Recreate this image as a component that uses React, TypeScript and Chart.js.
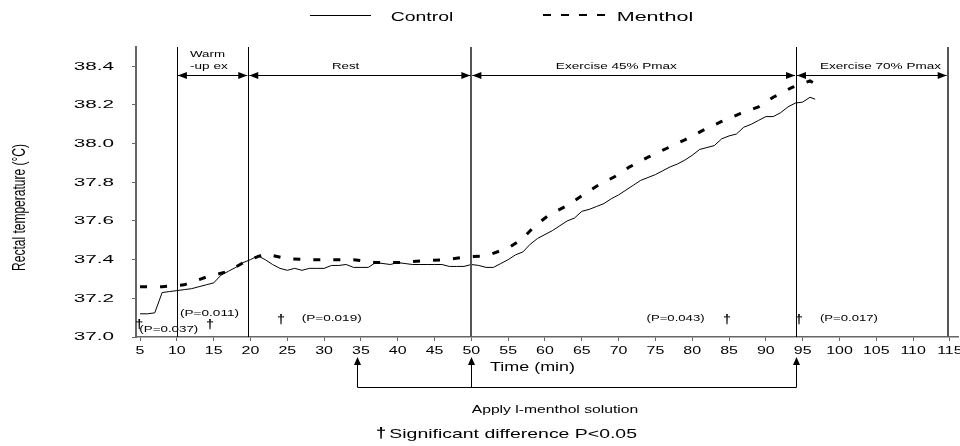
import { useEffect, useRef } from 'react';
import { Chart, registerables } from 'chart.js';

Chart.register(...registerables);

const FONT = "'Liberation Sans', Arial, sans-serif";

// ---- data ----
const controlTime = [5, 6, 7, 8, 9, 10, 11, 12, 13, 14, 15, 16, 17, 18, 19, 20, 21, 22, 23, 24, 25, 26, 27, 28, 29, 30, 31, 32, 33, 34, 35, 36, 37, 38, 39, 40, 41, 42, 43, 44, 45, 46, 47, 48, 49, 50, 51, 52, 53, 54, 55, 56, 57, 58, 59, 60, 61, 62, 63, 64, 65, 66, 67, 68, 69, 70, 71, 72, 73, 74, 75, 76, 77, 78, 79, 80, 81, 82, 83, 84, 85, 86, 87, 88, 89, 90, 91, 92, 93, 94, 95, 96, 96.7];
const controlTemp = [37.12, 37.12, 37.125, 37.23, 37.235, 37.24, 37.245, 37.25, 37.26, 37.27, 37.28, 37.32, 37.34, 37.36, 37.385, 37.4, 37.42, 37.4, 37.375, 37.355, 37.345, 37.355, 37.345, 37.355, 37.355, 37.355, 37.37, 37.37, 37.375, 37.36, 37.36, 37.36, 37.385, 37.38, 37.375, 37.385, 37.38, 37.375, 37.375, 37.375, 37.375, 37.375, 37.365, 37.365, 37.365, 37.375, 37.37, 37.36, 37.36, 37.38, 37.4, 37.425, 37.44, 37.48, 37.51, 37.53, 37.55, 37.575, 37.6, 37.615, 37.65, 37.66, 37.675, 37.69, 37.715, 37.735, 37.76, 37.785, 37.81, 37.825, 37.84, 37.86, 37.88, 37.895, 37.915, 37.94, 37.97, 37.98, 37.99, 38.025, 38.04, 38.05, 38.085, 38.1, 38.12, 38.14, 38.14, 38.16, 38.19, 38.21, 38.215, 38.24, 38.23];

const mentholTime = [5, 8, 11, 14, 17, 19.5, 22, 25, 28, 31, 34, 37, 40, 43.5, 46.5, 49.5, 52, 55, 57, 58.5, 60.5, 63, 65, 67, 69.5, 71.5, 74, 76.5, 79, 81.5, 84, 86.5, 89, 91, 93.5, 96, 96.7];
const mentholTemp = [37.26, 37.26, 37.27, 37.31, 37.34, 37.395, 37.43, 37.405, 37.4, 37.4, 37.4, 37.385, 37.385, 37.395, 37.4, 37.415, 37.42, 37.46, 37.51, 37.57, 37.63, 37.68, 37.73, 37.78, 37.83, 37.88, 37.93, 37.975, 38.02, 38.07, 38.115, 38.155, 38.19, 38.24, 38.29, 38.325, 38.31];

const xMin = 4.45;
const xMax = 116.1;
const xStep = 5;
const yMin = 37.0;
const yMax = 38.5;
const yStep = 0.2;

// phase boundaries (min) and their labels
const phaseBounds = [10, 19.7, 50, 94.1, 114.7];
const phaseLabelRows = [['Warm', '-up ex'], ['Rest'], ['Exercise 45% Pmax'], ['Exercise 70% Pmax']];
const phaseLabelStart = [11.79, 31.07, 61.48, 97.35];
const phaseArrowTemp = 38.357;

// significance marks
const daggerTimes = [4.9, 14.5, 24.14, 84.71, 94.49];
const daggerTemps = [37.046, 37.046, 37.072, 37.072, 37.072];
const pTexts = ['(P=0.037)', '(P=0.011)', '(P=0.019)', '(P=0.043)', '(P=0.017)'];
const pStartTimes = [4.9, 10.43, 26.96, 73.8, 97.35];
const pTemps = [37.028, 37.111, 37.083, 37.083, 37.083];

// l-menthol application times
const applyTimes = [34.5, 50, 94.1];

const X_TICK_STRETCH = 1.45;
const Y_TICK_STRETCH = 1.8;

function patchContext(ctx: CanvasRenderingContext2D) {
  const anyCtx = ctx as any;
  if (anyCtx.__patched) return;
  anyCtx.__patched = true;
  const orig = ctx.fillText.bind(ctx);
  anyCtx.fillText = (text: string, x: number, y: number, maxWidth?: number) => {
    const custom = anyCtx.__sx;
    const sx = typeof custom === 'number' ? custom : ctx.textAlign === 'right' ? Y_TICK_STRETCH : X_TICK_STRETCH;
    ctx.save();
    ctx.translate(x, y);
    ctx.scale(sx, 1);
    if (maxWidth === undefined) orig(text, 0, 0);
    else orig(text, 0, 0, maxWidth / sx);
    ctx.restore();
  };
}

function drawSpan(ctx: CanvasRenderingContext2D, s: string, left: number, width: number, baseline: number, size: number, bold = false) {
  ctx.font = `${bold ? 'bold ' : ''}${size}px ${FONT}`;
  ctx.textAlign = 'left';
  ctx.textBaseline = 'alphabetic';
  ctx.fillStyle = '#000';
  const w = ctx.measureText(s).width;
  (ctx as any).__sx = width / w;
  ctx.fillText(s, left, baseline);
  (ctx as any).__sx = undefined;
}

function drawCentered(ctx: CanvasRenderingContext2D, s: string, cx: number, baseline: number, size: number, sx: number, bold = false) {
  ctx.font = `${bold ? 'bold ' : ''}${size}px ${FONT}`;
  ctx.textAlign = 'center';
  ctx.textBaseline = 'alphabetic';
  ctx.fillStyle = '#000';
  (ctx as any).__sx = sx;
  ctx.fillText(s, cx, baseline);
  (ctx as any).__sx = undefined;
}

function headH(ctx: CanvasRenderingContext2D, x: number, y: number, dir: number) {
  ctx.beginPath();
  ctx.moveTo(x, y);
  ctx.lineTo(x - dir * 9, y - 3.5);
  ctx.lineTo(x - dir * 9, y + 3.5);
  ctx.closePath();
  ctx.fill();
}

function headUp(ctx: CanvasRenderingContext2D, x: number, y: number) {
  ctx.beginPath();
  ctx.moveTo(x, y);
  ctx.lineTo(x - 3.5, y + 8);
  ctx.lineTo(x + 3.5, y + 8);
  ctx.closePath();
  ctx.fill();
}

const annotations = {
  id: 'annotations',
  afterDraw(chart: any) {
    const { ctx, chartArea: ca } = chart;
    const xs = chart.scales.x;
    const ys = chart.scales.y;
    const X = (t: number) => xs.getPixelForValue(t);
    const Y = (v: number) => ys.getPixelForValue(v);
    ctx.save();
    ctx.fillStyle = '#000';

    // legend
    ctx.strokeStyle = '#000';
    ctx.lineWidth = 1;
    ctx.setLineDash([]);
    ctx.beginPath();
    ctx.moveTo(310, 15.5);
    ctx.lineTo(371, 15.5);
    ctx.stroke();
    drawSpan(ctx, 'Control', 390.7, 62.6, 20.7, 12.5);
    ctx.lineWidth = 2;
    ctx.setLineDash([8, 10]);
    ctx.beginPath();
    ctx.moveTo(543, 15);
    ctx.lineTo(605, 15);
    ctx.stroke();
    ctx.setLineDash([]);
    drawSpan(ctx, 'Menthol', 616.7, 76.6, 20.7, 12.5);

    // phase boundary lines
    phaseBounds.forEach((t, i) => {
      const heavy = i === 2 || i === 4;
      ctx.strokeStyle = heavy ? '#555' : '#000';
      ctx.lineWidth = heavy ? 2 : 1;
      const px = heavy ? Math.round(X(t)) : Math.round(X(t)) + 0.5;
      ctx.beginPath();
      ctx.moveTo(px, ca.top);
      ctx.lineTo(px, ca.bottom);
      ctx.stroke();
    });

    // phase arrows
    const ay = Math.round(Y(phaseArrowTemp)) + 0.5;
    ctx.strokeStyle = '#000';
    ctx.lineWidth = 1;
    for (let i = 0; i < phaseBounds.length - 1; i++) {
      const x1 = X(phaseBounds[i]) + 1;
      const x2 = X(phaseBounds[i + 1]) - 1;
      ctx.beginPath();
      ctx.moveTo(x1, ay);
      ctx.lineTo(x2, ay);
      ctx.stroke();
      headH(ctx, x1, ay, -1);
      headH(ctx, x2, ay, 1);
    }

    // phase labels
    const phaseWidths = [[35, 37.7], [27.3], [121], [121]];
    phaseLabelRows.forEach((rows, i) => {
      rows.forEach((s, r) => {
        const base = rows.length === 2 ? (r === 0 ? 56.7 : 69) : 69.3;
        drawSpan(ctx, s, X(phaseLabelStart[i]), phaseWidths[i][r], base, 9);
      });
    });

    // significance markers
    daggerTimes.forEach((t, i) => {
      drawCentered(ctx, '\u2020', X(t), Y(daggerTemps[i]), 12, 1.2, true);
    });
    const pWidths = [59, 59, 60, 58, 58];
    pTexts.forEach((s, i) => {
      drawSpan(ctx, s, X(pStartTimes[i]), pWidths[i], Y(pTemps[i]), 8.5);
    });

    // y axis title
    ctx.save();
    ctx.font = `12px ${FONT}`;
    ctx.textAlign = 'center';
    ctx.textBaseline = 'alphabetic';
    (ctx as any).__sx = 1;
    ctx.translate(25, (ca.top + ca.bottom) / 2 + 15.5);
    ctx.scale(1.52, 1);
    ctx.rotate(-Math.PI / 2);
    ctx.fillText('Rectal temperature (\u00B0C)', 0, 0);
    (ctx as any).__sx = undefined;
    ctx.restore();

    // x axis title
    drawSpan(ctx, 'Time (min)', 490, 85, ca.bottom + 33.5, 13.5);

    // l-menthol application bracket
    const tipY = ca.bottom + 20;
    const brY = Math.round(ca.bottom + 50) + 0.5;
    ctx.strokeStyle = '#000';
    ctx.lineWidth = 1;
    const pxs = applyTimes.map((t) => Math.round(X(t)) + 0.5);
    ctx.beginPath();
    ctx.moveTo(pxs[0], brY);
    ctx.lineTo(pxs[pxs.length - 1], brY);
    pxs.forEach((p) => {
      ctx.moveTo(p, brY);
      ctx.lineTo(p, tipY + 6);
    });
    ctx.stroke();
    pxs.forEach((p) => headUp(ctx, p, tipY));

    drawSpan(ctx, 'Apply l-menthol solution', 471.7, 166.6, ca.bottom + 75.8, 11);
    drawCentered(ctx, '\u2020', 381, ca.bottom + 100.5, 14, 1.3, true);
    drawSpan(ctx, 'Significant difference P<0.05', 389.3, 247.7, ca.bottom + 100.5, 13);

    ctx.restore();
  },
};

export default function App() {
  const ref = useRef<HTMLCanvasElement | null>(null);
  useEffect(() => {
    const canvas = ref.current;
    if (!canvas) return;
    const ctx = canvas.getContext('2d');
    if (!ctx) return;
    patchContext(ctx);
    const chart = new Chart(canvas, {
      type: 'line',
      data: {
        datasets: [
          {
            label: 'Control',
            data: controlTime.map((t, i) => ({ x: t, y: controlTemp[i] })),
            borderColor: '#000',
            borderWidth: 1,
            pointRadius: 0,
            tension: 0,
            fill: false,
          },
          {
            label: 'Menthol',
            data: mentholTime.map((t, i) => ({ x: t, y: mentholTemp[i] })),
            borderColor: '#000',
            borderWidth: 3,
            borderDash: [7, 13],
            pointRadius: 0,
            tension: 0,
            fill: false,
          },
        ],
      },
      options: {
        responsive: false,
        animation: false,
        devicePixelRatio: 1,
        layout: { padding: { top: 47, right: 2, left: 0, bottom: 0 } },
        plugins: { legend: { display: false }, tooltip: { enabled: false }, title: { display: false } },
        scales: {
          x: {
            type: 'linear',
            min: xMin,
            max: xMax,
            ticks: {
              stepSize: xStep,
              includeBounds: false,
              autoSkip: false,
              maxRotation: 0,
              color: '#000',
              padding: 3,
              font: { family: FONT, size: 11 },
            },
            grid: { drawOnChartArea: false, drawTicks: true, tickLength: 4, color: '#666' },
            border: { display: true, color: '#666', width: 1.5 },
            afterFit: (s: any) => {
              s.height = 109;
              s.paddingLeft = 0;
              s.paddingRight = 0;
            },
          },
          y: {
            type: 'linear',
            min: yMin,
            max: yMax,
            ticks: {
              stepSize: yStep,
              includeBounds: false,
              color: '#000',
              padding: 18,
              font: { family: FONT, size: 11.5 },
              callback: (v: any) => Number(v).toFixed(1),
            },
            grid: { drawOnChartArea: false, drawTicks: true, tickLength: 4, color: '#666' },
            border: { display: true, color: '#666', width: 2 },
            afterFit: (s: any) => {
              s.width = 136;
            },
          },
        },
      },
      plugins: [annotations],
    });
    return () => chart.destroy();
  }, []);
  return (
    <div style={{ position: 'fixed', left: 0, top: 0, width: 960, height: 446, background: '#fff', overflow: 'hidden' }}>
      <canvas ref={ref} width={960} height={446} style={{ display: 'block' }} />
    </div>
  );
}
